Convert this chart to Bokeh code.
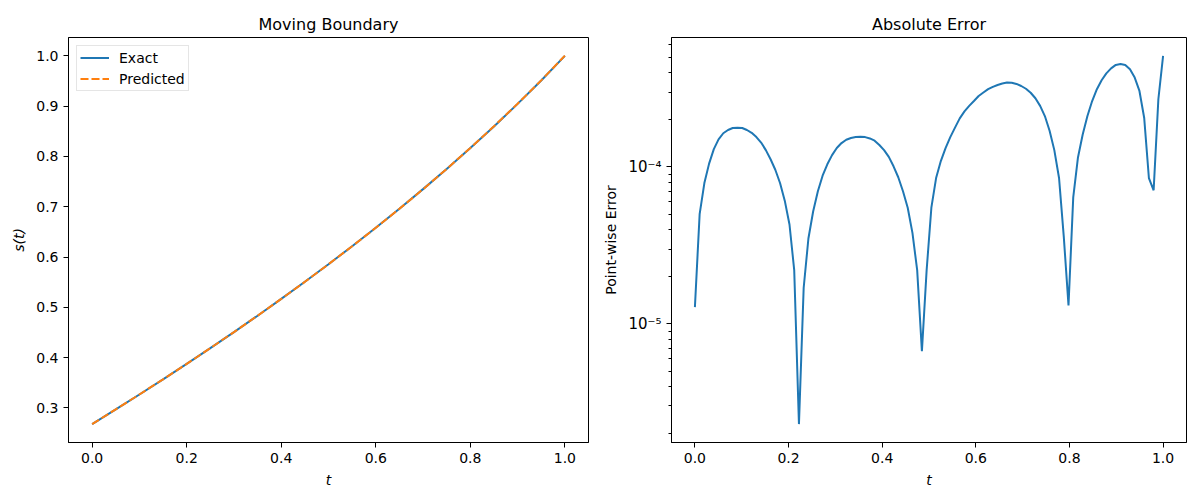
from bokeh.plotting import figure
from bokeh.layouts import row
from bokeh.models import FixedTicker, NumeralTickFormatter, CustomJSTickFormatter, Range1d
from bokeh.embed import file_html
from bokeh.resources import INLINE
import math

# ---------------- data ----------------
t_boundary = [0.00, 0.05, 0.10, 0.15, 0.20, 0.25, 0.30, 0.35, 0.40, 0.45, 0.50,
              0.55, 0.60, 0.65, 0.70, 0.75, 0.80, 0.85, 0.90, 0.95, 1.00]
s_exact = [0.2679, 0.2971, 0.3267, 0.3568, 0.3875, 0.4189, 0.4508, 0.4834, 0.5168, 0.5509, 0.5858,
           0.6216, 0.6584, 0.6962, 0.7351, 0.7753, 0.8168, 0.8598, 0.9046, 0.9512, 1.0000]
s_pred = [0.2679, 0.2972, 0.3268, 0.3569, 0.3875, 0.4189, 0.4509, 0.4835, 0.5168, 0.5508, 0.5857,
          0.6215, 0.6582, 0.6960, 0.7349, 0.7752, 0.8168, 0.8600, 0.9049, 0.9514, 1.0005]

n_err = 100
t_err = [i / (n_err - 1) for i in range(n_err)]
abs_err = [
    1.28e-5, 5.0e-5, 7.9e-5, 1.05e-4, 1.30e-4, 1.50e-4, 1.64e-4, 1.72e-4, 1.77e-4, 1.78e-4,
    1.77e-4, 1.72e-4, 1.65e-4, 1.55e-4, 1.43e-4, 1.28e-4, 1.12e-4, 9.6e-5, 7.9e-5, 6.1e-5,
    4.3e-5, 2.2e-5, 2.3e-6, 1.7e-5, 3.5e-5, 5.2e-5, 7.0e-5, 8.8e-5, 1.04e-4, 1.19e-4,
    1.32e-4, 1.42e-4, 1.49e-4, 1.53e-4, 1.55e-4, 1.56e-4, 1.55e-4, 1.52e-4, 1.47e-4, 1.38e-4,
    1.28e-4, 1.16e-4, 1.01e-4, 8.6e-5, 7.0e-5, 5.5e-5, 3.8e-5, 2.2e-5, 6.7e-6, 2.2e-5,
    5.5e-5, 8.5e-5, 1.09e-4, 1.32e-4, 1.55e-4, 1.78e-4, 2.04e-4, 2.26e-4, 2.45e-4, 2.63e-4,
    2.83e-4, 2.98e-4, 3.13e-4, 3.24e-4, 3.33e-4, 3.40e-4, 3.45e-4, 3.44e-4, 3.38e-4, 3.28e-4,
    3.15e-4, 2.97e-4, 2.74e-4, 2.45e-4, 2.11e-4, 1.70e-4, 1.28e-4, 8.5e-5, 3.6e-5, 1.31e-5,
    6.4e-5, 1.15e-4, 1.61e-4, 2.11e-4, 2.63e-4, 3.13e-4, 3.57e-4, 3.95e-4, 4.25e-4, 4.47e-4,
    4.53e-4, 4.47e-4, 4.19e-4, 3.71e-4, 3.05e-4, 2.06e-4, 8.5e-5, 7.1e-5, 2.7e-4, 5.1e-4,
]

x_ticks = [0.0, 0.2, 0.4, 0.6, 0.8, 1.0]
s_ticks = [0.3, 0.4, 0.5, 0.6, 0.7, 0.8, 0.9, 1.0]
err_major_ticks = [1e-5, 1e-4]
err_major_labels = ["10\u207b\u2075", "10\u207b\u2074"]
err_minor_ticks = [k * 10.0 ** e for e in (-6, -5, -4) for k in range(2, 10)]

FONT = "DejaVu Sans"
BLUE = "#1f77b4"
ORANGE = "#ff7f0e"


def style(p, xlabel, ylabel):
    p.title.text_font = FONT
    p.title.text_font_size = "16px"
    p.title.text_font_style = "normal"
    p.title.text_color = "black"
    p.title.align = "center"
    p.title.standoff = 8
    p.outline_line_color = "black"
    p.outline_line_alpha = 1
    p.outline_line_width = 1
    p.xgrid.visible = False
    p.ygrid.visible = False
    p.background_fill_color = "white"
    p.border_fill_color = "white"
    for ax in (p.xaxis[0], p.yaxis[0]):
        ax.axis_line_color = "black"
        ax.major_tick_line_color = "black"
        ax.major_tick_out = 5
        ax.major_tick_in = 0
        ax.minor_tick_out = 3
        ax.minor_tick_in = 0
        ax.major_label_text_font = FONT
        ax.major_label_text_font_size = "14px"
        ax.major_label_text_color = "black"
        ax.major_label_standoff = 5
        ax.axis_label_text_font = FONT
        ax.axis_label_text_font_size = "14px"
        ax.axis_label_text_color = "black"
        ax.axis_label_text_font_style = "normal"
        ax.axis_label_standoff = 6
    p.xaxis[0].axis_label = xlabel
    p.xaxis[0].axis_label_text_font_style = "italic"
    p.yaxis[0].axis_label = ylabel


# ---------------- left: moving boundary ----------------
smin, smax = min(s_exact), max(s_exact)
pad = 0.05 * (smax - smin)
p1 = figure(width=600, height=500, title="Moving Boundary",
            output_backend="svg", toolbar_location=None,
            x_range=Range1d(-0.05, 1.05), y_range=Range1d(smin - pad, smax + pad),
            min_border_left=68, min_border_right=12, min_border_top=37, min_border_bottom=58)
p1.line(t_boundary, s_exact, line_color=BLUE, line_width=2, legend_label="Exact")
p1.line(t_boundary, s_pred, line_color=ORANGE, line_width=2, line_dash="8 3", legend_label="Predicted")
style(p1, "t", "s(t)")
p1.yaxis[0].axis_label_text_font_style = "italic"
p1.xaxis[0].ticker = FixedTicker(ticks=x_ticks)
p1.yaxis[0].ticker = FixedTicker(ticks=s_ticks)
p1.xaxis[0].formatter = NumeralTickFormatter(format="0.0")
p1.yaxis[0].formatter = NumeralTickFormatter(format="0.0")
p1.xaxis[0].minor_tick_line_color = None
p1.yaxis[0].minor_tick_line_color = None
lg = p1.legend[0]
lg.location = "top_left"
lg.margin = 8
lg.padding = 3
lg.spacing = 4
lg.glyph_width = 29
lg.glyph_height = 17
lg.label_height = 17
lg.label_standoff = 10
lg.label_text_font = FONT
lg.label_text_font_size = "14px"
lg.label_text_color = "black"
lg.border_line_color = "#cccccc"
lg.border_line_width = 1
lg.background_fill_alpha = 0.8

# ---------------- right: absolute error ----------------
emin, emax = min(abs_err), max(abs_err)
lpad = 0.05 * (math.log10(emax) - math.log10(emin))
p2 = figure(width=600, height=500, title="Absolute Error", y_axis_type="log",
            output_backend="svg", toolbar_location=None,
            x_range=Range1d(-0.05, 1.05),
            y_range=Range1d(emin / 10 ** lpad, emax * 10 ** lpad),
            min_border_left=66, min_border_right=14, min_border_top=37, min_border_bottom=58)
p2.line(t_err, abs_err, line_color=BLUE, line_width=2)
style(p2, "t", "Point-wise Error")
p2.xaxis[0].ticker = FixedTicker(ticks=x_ticks)
p2.xaxis[0].formatter = NumeralTickFormatter(format="0.0")
p2.xaxis[0].minor_tick_line_color = None
p2.yaxis[0].ticker = FixedTicker(ticks=err_major_ticks, minor_ticks=err_minor_ticks)
p2.yaxis[0].minor_tick_line_color = "black"
p2.yaxis[0].major_label_text_font_size = "15px"
p2.yaxis[0].formatter = CustomJSTickFormatter(
    args=dict(vals=err_major_ticks, labels=err_major_labels),
    code="""
    for (let i = 0; i < vals.length; i++) {
        if (Math.abs(Math.log10(tick) - Math.log10(vals[i])) < 1e-6) return labels[i];
    }
    return "";
    """)

layout = row(p1, p2)
open("out.html", "w").write(file_html(layout, INLINE))
